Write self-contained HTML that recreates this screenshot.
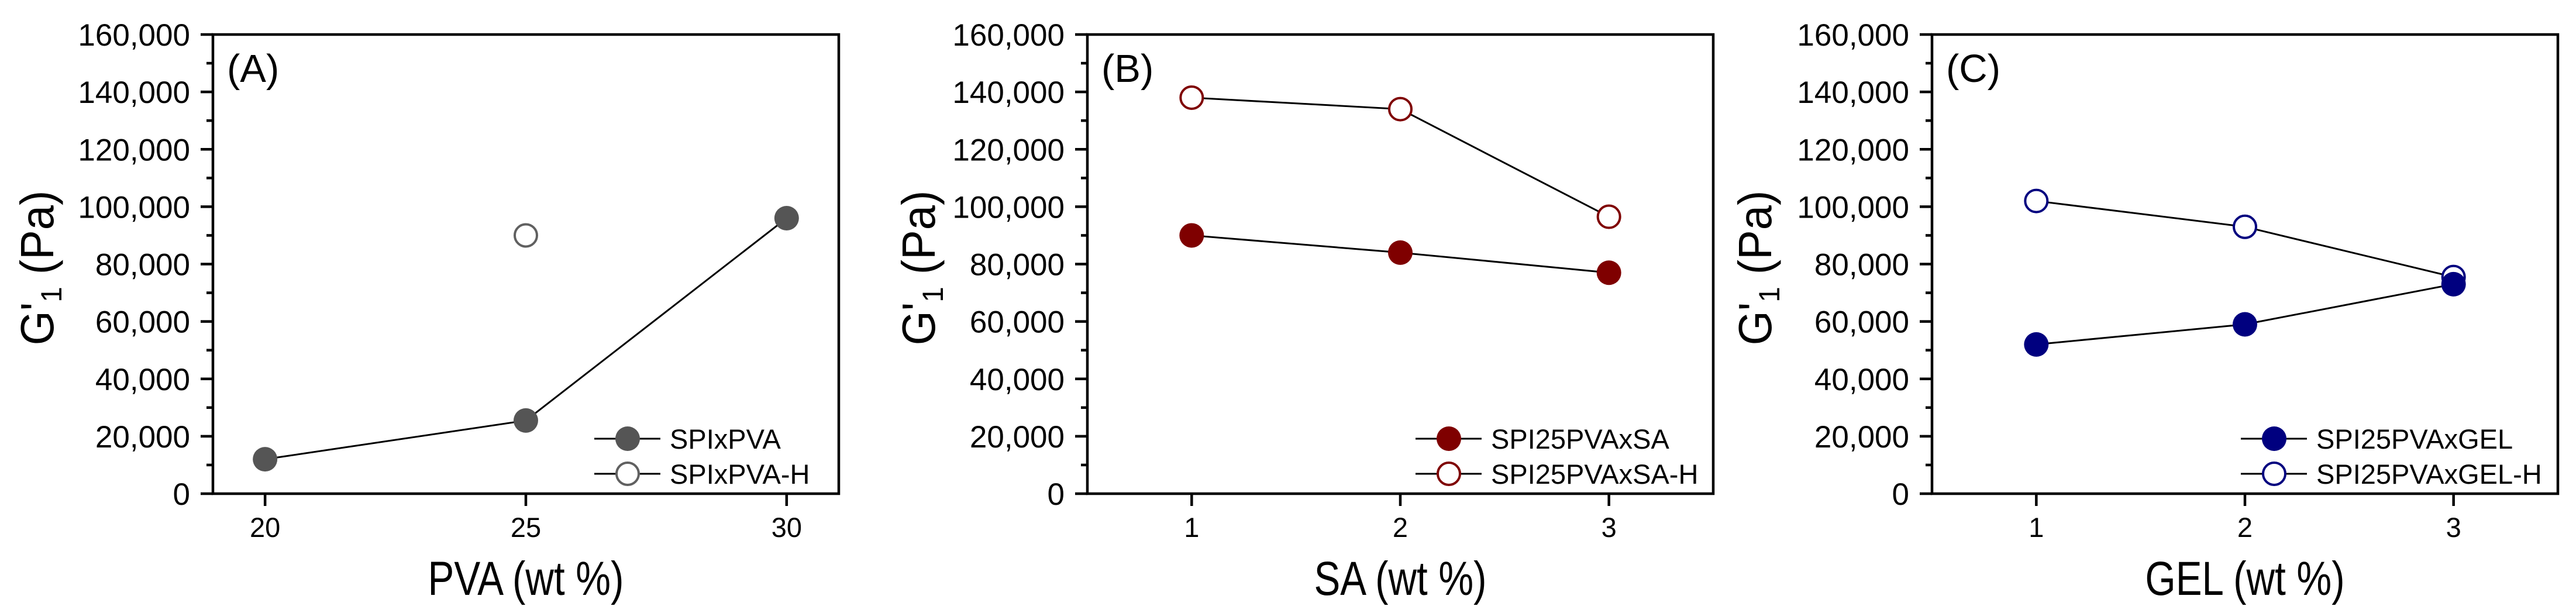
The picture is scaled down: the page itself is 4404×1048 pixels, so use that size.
<!DOCTYPE html>
<html><head><meta charset="utf-8"><style>
html,body{margin:0;padding:0;background:#fff;}
svg{display:block;font-family:"Liberation Sans",Arial,sans-serif;}
</style></head><body>
<svg id="fig" width="4404" height="1048" viewBox="0 0 4404 1048" xmlns="http://www.w3.org/2000/svg"></svg>
<script>
// ---- data ----
const xA = [20, 25, 30];
const aFilled = [12000, 25500, 96000];
const aOpenX = [25];
const aOpen = [90000];
const xB = [1, 2, 3];
const bFilled = [90000, 84000, 77000];
const bOpen = [138000, 134000, 96500];
const xC = [1, 2, 3];
const cFilled = [52000, 59000, 73000];
const cOpen = [102000, 93000, 75500];
const yTicks = [0, 20000, 40000, 60000, 80000, 100000, 120000, 140000, 160000];
const yTickLabels = ["0","20,000","40,000","60,000","80,000","100,000","120,000","140,000","160,000"];
const xTicksA = [20, 25, 30];
const xTicksB = [1, 2, 3];

const NS = "http://www.w3.org/2000/svg";
const svg = document.getElementById("fig");
function mk(tag, attrs, parent) {
  const e = document.createElementNS(NS, tag);
  for (const k in attrs) e.setAttribute(k, attrs[k]);
  (parent || svg).appendChild(e);
  return e;
}
const TOP = 59, BOT = 844, YMAX = 160000;
function yScale(v) { return BOT - (v / YMAX) * (BOT - TOP); }

function panel(cfg) {
  const g = mk("g", {});
  
  
  const L = cfg.left, R = cfg.left + 1070;
  const xs = v => L + (v - cfg.xmin) / (cfg.xmax - cfg.xmin) * (R - L);
  for (let v = 10000; v < YMAX; v += 20000) {
    const t = mk("line", {x1: L - 11, x2: L, y1: yScale(v), y2: yScale(v), stroke: "#000", "stroke-width": 4.5}, g);
    
    
  }
  yTicks.forEach((v, i) => {
    const t = mk("line", {x1: L - 21, x2: L, y1: yScale(v), y2: yScale(v), stroke: "#000", "stroke-width": 4.5}, g);
    
    
    const tx = mk("text", {x: L - 39, y: yScale(v) + 19, "text-anchor": "end", "font-size": 53}, g);
    tx.textContent = yTickLabels[i];
    
    
  });
  cfg.xticks.forEach(v => {
    const t = mk("line", {x1: xs(v), x2: xs(v), y1: BOT, y2: BOT + 21, stroke: "#000", "stroke-width": 4.5}, g);
    
    
    const tx = mk("text", {x: xs(v), y: 918, "text-anchor": "middle", "font-size": 47}, g);
    tx.textContent = String(v);
    
    
  });
  const box = mk("rect", {x: L, y: TOP, width: R - L, height: BOT - TOP, fill: "none", stroke: "#000", "stroke-width": 4.5}, g);
  
  
  function series(xv, yv, filled, nm) {
    if (xv.length > 1) {
      const pts = xv.map((x, i) => xs(x) + "," + yScale(yv[i])).join(" ");
      const pl = mk("polyline", {points: pts, fill: "none", stroke: "#000", "stroke-width": 3}, g);
      
      
    }
    xv.forEach((x, i) => {
      const c = mk("circle", {cx: xs(x), cy: yScale(yv[i]), r: filled ? 21 : 19,
        fill: filled ? cfg.color : "#fff", stroke: filled ? "none" : cfg.openColor, "stroke-width": 4}, g);
      
      
    });
  }
  series(cfg.ox, cfg.oy, false, cfg.openName);
  series(cfg.fx, cfg.fy, true, cfg.filledName);
  const pl = mk("text", {x: L + 24, y: 140, "font-size": 67}, g);
  pl.textContent = cfg.letter;
  
  
  const lg = mk("g", {}, g);
  
  
  [[cfg.filledLabel, true, 750], [cfg.openLabel, false, 810]].forEach(([lab, filled, y]) => {
    const ent = mk("g", {}, lg);
    
    
    const lx = cfg.legX;
    mk("line", {x1: lx, x2: lx + 113, y1: y, y2: y, stroke: "#000", "stroke-width": 3}, ent);
    mk("circle", {cx: lx + 57, cy: y, r: filled ? 21 : 19, fill: filled ? cfg.color : "#fff",
      stroke: filled ? "none" : cfg.openColor, "stroke-width": 4}, ent);
    const t = mk("text", {x: lx + 129, y: y + 17, "font-size": 47}, ent);
    t.textContent = lab;
  });
  const xt = mk("text", {transform: `translate(${(L + R) / 2},1017) scale(0.82,1)`, "text-anchor": "middle", "font-size": 82}, g);
  xt.textContent = cfg.xTitle;
  
  
  const yt = mk("text", {transform: `translate(${cfg.yTitleX},458) rotate(-90) scale(0.95,1)`, "text-anchor": "middle", "font-size": 80}, g);
  
  
  const s1 = mk("tspan", {}, yt); s1.textContent = "G'";
  const s2 = mk("tspan", {"font-size": 50, dy: 14}, yt); s2.textContent = "1";
  const s3 = mk("tspan", {dy: -14}, yt); s3.textContent = " (Pa)";
}

panel({name: "panel-a", left: 364, xmin: 19, xmax: 31, xticks: xTicksA, color: "#555555", openColor: "#606060",
  fx: xA, fy: aFilled, ox: aOpenX, oy: aOpen, filledName: "spixpva", openName: "spixpva-h",
  letter: "(A)", filledLabel: "SPIxPVA", openLabel: "SPIxPVA-H", legX: 1016, xTitle: "PVA (wt %)", yTitleX: 91});
panel({name: "panel-b", left: 1859, xmin: 0.5, xmax: 3.5, xticks: xTicksB, color: "#7f0000", openColor: "#7f0000",
  fx: xB, fy: bFilled, ox: xB, oy: bOpen, filledName: "spi25pvaxsa", openName: "spi25pvaxsa-h",
  letter: "(B)", filledLabel: "SPI25PVAxSA", openLabel: "SPI25PVAxSA-H", legX: 2420, xTitle: "SA (wt %)", yTitleX: 1598});
panel({name: "panel-c", left: 3303, xmin: 0.5, xmax: 3.5, xticks: xTicksB, color: "#00007f", openColor: "#00007f",
  fx: xC, fy: cFilled, ox: xC, oy: cOpen, filledName: "spi25pvaxgel", openName: "spi25pvaxgel-h",
  letter: "(C)", filledLabel: "SPI25PVAxGEL", openLabel: "SPI25PVAxGEL-H", legX: 3831, xTitle: "GEL (wt %)", yTitleX: 3028});
</script>
</body></html>
